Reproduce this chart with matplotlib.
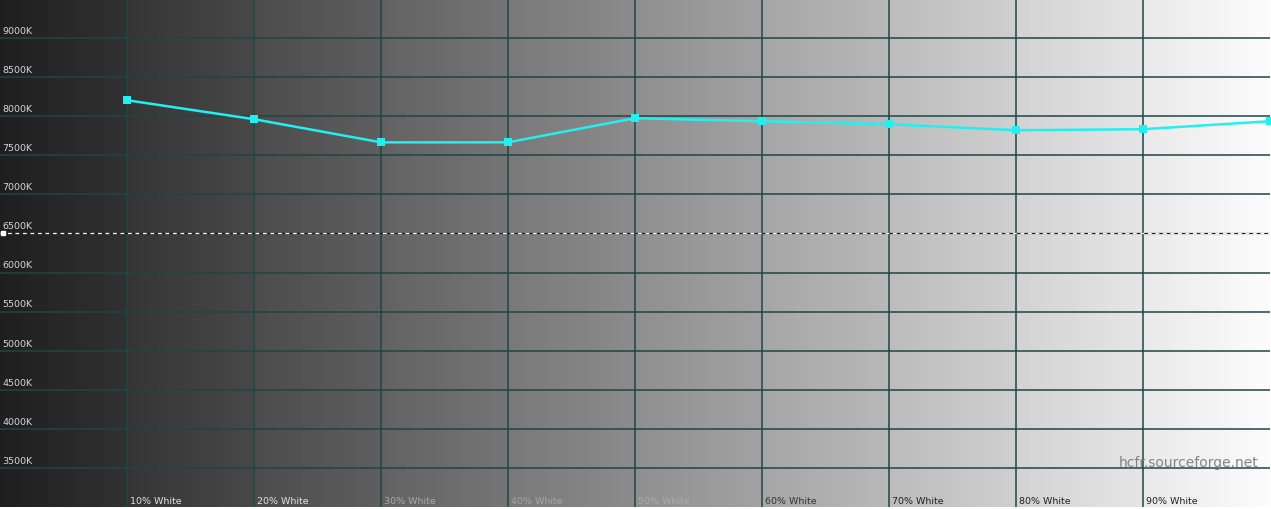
import matplotlib
matplotlib.use("Agg")
import matplotlib.pyplot as plt
import numpy as np

# Data
levels = [1, 2, 3, 4, 5, 6, 7, 8, 9, 10]
cct_values = [8205, 7962, 7666, 7666, 7975, 7936, 7898, 7821, 7834, 7936]
x_labels = ["10% White", "20% White", "30% White", "40% White", "50% White",
            "60% White", "70% White", "80% White", "90% White"]
x_label_colors = ["#e2e2e2", "#e2e2e2", "#a9a9a9", "#a6a6a6", "#ababab",
                  "#333333", "#222222", "#222222", "#222222"]
y_ticks = [3500, 4000, 4500, 5000, 5500, 6000, 6500, 7000, 7500, 8000, 8500, 9000]
y_tick_labels = ["%dK" % v for v in y_ticks]
reference_cct = 6500

W, H = 1271, 510
fig = plt.figure(figsize=(W / 100, H / 100), dpi=100, facecolor="white")
ax = fig.add_axes([0, 2 / H, 1270 / W, 508 / H])
ax.set_xlim(0, 10)
ax.set_ylim(3000, 9500)
ax.axis("off")

# Background: stepped horizontal gray gradient, one ramp per column
n = 1270
xs = np.arange(n) / n * 10
col = np.floor(xs)
frac = xs - col
start = 0.12 + col * 0.088
vals = start + frac * 0.075
vals = np.clip(vals, 0, 1)
img = np.tile(vals, (2, 1))
ax.imshow(img, cmap="gray", vmin=0, vmax=1, extent=[0, 10, 3000, 9500],
          aspect="auto", zorder=0, interpolation="nearest")

grid_color = "#1d4646"
for x in range(1, 10):
    ax.axvline(x, color=grid_color, lw=1.1, zorder=1)
for y in y_ticks:
    if y != reference_cct:
        ax.axhline(y, color=grid_color, lw=1.1, zorder=1)

# reference dashed line (white dashes over dark gaps)
ax.axhline(reference_cct, color="#222222", lw=0.9, zorder=2)
ax.axhline(reference_cct, color="white", lw=0.9, ls=(0, (3, 3)), zorder=2)
ax.plot([0.02], [reference_cct], marker="s", ms=3.5, color="white",
        clip_on=False, zorder=3)

# y tick labels
for y, lab in zip(y_ticks, y_tick_labels):
    ax.text(0.02, y + 40, lab, color="#d6d6d6", fontsize=6.8,
            ha="left", va="bottom", zorder=4)

# x labels
for i, (lab, c) in enumerate(zip(x_labels, x_label_colors)):
    ax.text(i + 1 + 0.02, 3020, lab, color=c, fontsize=6.8,
            ha="left", va="bottom", zorder=4)

# data line
ax.plot(levels, cct_values, color="#22f0f0", lw=1.8, marker="s", ms=5.5,
        markeredgewidth=0, zorder=5, clip_on=False)

# watermark
ax.text(9.91, 3530, "hcfr.sourceforge.net", color="#848484", fontsize=10,
        ha="right", va="baseline", zorder=4)

fig.savefig("out.png", dpi=100, facecolor="white")
